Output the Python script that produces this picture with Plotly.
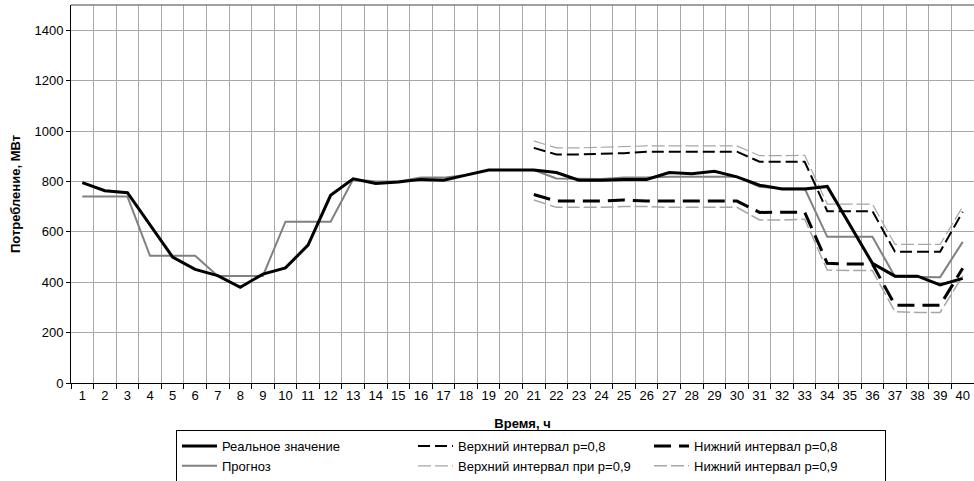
import plotly.graph_objects as go

hours = list(range(1, 41))
tick_labels = [str(h) for h in hours]

real = [795, 763, 755, 628, 500, 451, 426, 380, 432, 457,
        547, 745, 810, 792, 798, 808, 805, 825, 845, 845,
        845, 835, 805, 805, 808, 808, 835, 830, 840, 818,
        785, 770, 770, 780, 625, 475, 424, 424, 389, 415]

forecast = [740, 740, 740, 505, 505, 505, 425, 425, 425, 640,
            640, 640, 808, 800, 800, 815, 815, 825, 845, 845,
            845, 812, 810, 810, 815, 815, 818, 818, 818, 818,
            779, 772, 772, 580, 580, 580, 422, 422, 420, 560]

upper08 = [None] * 20 + [933, 907, 907, 910, 912, 918, 918, 918, 918, 918,
                         878, 878, 878, 682, 682, 682, 521, 521, 521, 680]
upper09 = [None] * 20 + [961, 933, 933, 936, 940, 941, 941, 941, 941, 941,
                         902, 902, 903, 710, 710, 710, 550, 550, 550, 700]
lower08 = [None] * 20 + [748, 722, 722, 722, 726, 722, 722, 722, 722, 722,
                         677, 677, 678, 475, 472, 472, 309, 309, 309, 455]
lower09 = [None] * 20 + [726, 697, 697, 697, 700, 700, 697, 697, 697, 697,
                         647, 647, 650, 448, 446, 446, 283, 280, 280, 425]

FONT = "Liberation Sans, Arial, sans-serif"

fig = go.Figure()
fig.add_trace(go.Scatter(x=hours, y=upper09, mode="lines", name="Верхний интервал при p=0,9",
                         line=dict(color="#a6a6a6", width=1.2, dash="13px,4px"),
                         legendrank=5))
fig.add_trace(go.Scatter(x=hours, y=lower09, mode="lines", name="Нижний интервал p=0,9",
                         line=dict(color="#a6a6a6", width=1.5, dash="13px,4px"),
                         legendrank=6))
fig.add_trace(go.Scatter(x=hours, y=forecast, mode="lines", name="Прогноз",
                         line=dict(color="#808080", width=2),
                         legendrank=4))
fig.add_trace(go.Scatter(x=hours, y=upper08, mode="lines", name="Верхний интервал p=0,8",
                         line=dict(color="#000000", width=2, dash="12px,5px"),
                         legendrank=2))
fig.add_trace(go.Scatter(x=hours, y=lower08, mode="lines", name="Нижний интервал p=0,8",
                         line=dict(color="#000000", width=3, dash="17px,8px"),
                         legendrank=3))
fig.add_trace(go.Scatter(x=hours, y=real, mode="lines", name="Реальное значение",
                         line=dict(color="#000000", width=3),
                         legendrank=1))

fig.update_layout(
    width=974, height=481,
    margin=dict(l=71, r=0, t=5, b=98, autoexpand=False),
    paper_bgcolor="white", plot_bgcolor="white",
    font=dict(family=FONT, size=13, color="#000"),
    showlegend=True,
    legend=dict(
        orientation="h",
        x=(176 - 71) / 903, xanchor="left",
        y=(383 - 430) / 378, yanchor="top",
        bordercolor="#000", borderwidth=1, bgcolor="white",
        itemwidth=35, entrywidth=186, entrywidthmode="pixels",
        font=dict(family=FONT, size=13, color="#000"),
        traceorder="normal",
    ),
    xaxis=dict(
        range=[0.5, 40.5],
        tickmode="array", tickvals=hours, ticktext=tick_labels,
        ticks="", showgrid=False,
        showline=True, linecolor="#000", linewidth=1,
        tickfont=dict(family=FONT, size=13, color="#000"),
        minor=dict(tick0=0.5, dtick=1, ticks="outside", ticklen=5, tickcolor="#000",
                   showgrid=True, gridcolor="#a8a8a8", gridwidth=1),
        title=dict(text="<b>Время, ч</b>", standoff=17,
                   font=dict(family=FONT, size=13, color="#000")),
        zeroline=False,
    ),
    yaxis=dict(
        range=[0, 1500], tickmode="linear", tick0=0, dtick=200,
        ticks="outside", ticklen=4, tickcolor="#000",
        showgrid=True, gridcolor="#a8a8a8", gridwidth=1,
        showline=True, linecolor="#000", linewidth=1,
        tickfont=dict(family=FONT, size=13, color="#000"),
        title=dict(text="<b>Потребление, МВт</b>", standoff=10,
                   font=dict(family=FONT, size=13, color="#000")),
        zeroline=False,
    ),
    shapes=[dict(type="line", xref="paper", yref="paper", x0=0, x1=1, y0=1, y1=1,
                 line=dict(color="#808080", width=1.5))],
)

fig.write_html("out.html")
